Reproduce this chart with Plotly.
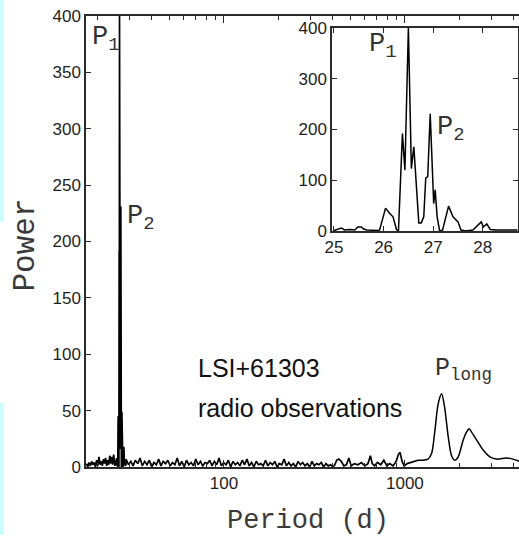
import math
import plotly.graph_objects as go

# Periodogram of LSI+61303 radio observations.
# Short-period noise, left of the orbital peak
short_period = [17.4, 17.7, 18.0, 18.3, 18.6, 18.9, 19.2, 19.5, 19.8, 20.1, 20.4, 20.7, 21.0,
                21.3, 21.6, 21.9, 22.2, 22.5, 22.8, 23.1, 23.4, 23.7, 24.0, 24.3, 24.6, 24.8]
short_power = [3, 0, 4, 1, 5, 2, 4, 0, 6, 1, 9, 2, 5, 1, 7, 3, 8, 1, 6, 2, 10, 3, 9, 2, 11, 4]

# Orbital peak region (also shown enlarged in the inset)
peak_period = [25.00, 25.08, 25.15, 25.21, 25.32, 25.42, 25.48, 25.55, 25.60, 25.66, 25.79, 25.89,
               25.92, 26.04, 26.12, 26.19, 26.26, 26.30, 26.38, 26.43, 26.50, 26.56, 26.61, 26.66,
               26.71, 26.76, 26.81, 26.85, 26.89, 26.94, 26.98, 27.01, 27.04, 27.08, 27.13, 27.19,
               27.31, 27.40, 27.50, 27.56, 27.66, 27.80, 27.97, 28.01, 28.08, 28.15, 28.27, 28.60,
               28.72]
peak_power = [1, 3, 6, 2, 3, 2, 8, 8, 4, 2, 1, 1,
              2, 45, 35, 28, 3, 0, 192, 120, 400, 123, 166, 87,
              16, 16, 28, 104, 107, 231, 140, 54, 81, 28, 0, 2,
              49, 28, 18, 2, 0, 2, 18, 8, 14, 3, 2, 1,
              2]

# Noise between the orbital peak and 400 d
mid_period = [28.8, 29.7, 30.6, 31.5, 32.4, 33.4, 34.4, 35.4, 36.5, 37.6,
              38.7, 39.9, 41.1, 42.3, 43.6, 44.9, 46.2, 47.6, 49.0, 50.5,
              52.0, 53.6, 55.2, 56.8, 58.5, 60.3, 62.1, 64.0, 65.9, 67.9,
              69.9, 72.0, 74.2, 76.4, 78.7, 81.1, 83.5, 86.0, 88.6, 91.3,
              94.0, 96.8, 99.7, 102.7, 105.8, 109.0, 112.2, 115.6, 119.1, 122.6,
              126.3, 130.1, 134.0, 138.0, 142.2, 146.4, 150.8, 155.4, 160.0, 164.8,
              169.8, 174.9, 180.1, 185.5, 191.1, 196.8, 202.7, 208.8, 215.1, 221.5,
              228.2, 235.0, 242.1, 249.3, 256.8, 264.5, 272.5, 280.6, 289.1, 297.7,
              306.7, 315.9, 325.3, 335.1, 345.2, 355.5, 366.2, 377.2, 388.5, 400.0]
mid_power = [7, 2, 5, 1, 6, 3, 8, 1, 5, 2,
             6, 0, 4, 2, 7, 1, 5, 3, 6, 1,
             4, 2, 8, 1, 5, 0, 6, 2, 4, 1,
             7, 2, 5, 1, 4, 3, 6, 1, 5, 2,
             8, 1, 4, 2, 6, 0, 5, 2, 4, 1,
             6, 2, 7, 1, 4, 0, 5, 2, 3, 1,
             6, 1, 4, 2, 5, 0, 3, 2, 7, 1,
             4, 1, 3, 0, 5, 2, 4, 1, 3, 0,
             5, 1, 3, 2, 4, 0, 3, 1, 2, 0]

# Sparse bumps from 400 d to the rise of the long period
tail_period = [410, 420, 432, 445, 460, 475, 490, 505, 525, 550, 575, 600, 625, 645, 660, 680,
               705, 735, 765, 795, 825, 860, 895, 920, 940, 965, 990, 1030, 1080, 1130, 1180]
tail_power = [2, 6, 7, 5, 1, 2, 8, 1, 3, 2, 4, 1, 3, 10, 3, 1,
              4, 2, 6, 1, 3, 1, 5, 11, 13, 5, 1, 3, 4, 5, 6]

# Smooth long-period part (P_long and its neighbour)
long_period = [1180, 1260, 1340, 1404, 1464, 1527, 1596, 1657, 1735, 1811, 1889, 1970,
               2100, 2191, 2265, 2336, 2489, 2708, 2950, 3213, 3646, 3950, 4300]
long_power = [6, 6, 7, 12, 32, 56, 65, 53, 27, 10, 6, 9,
              24, 31, 34, 31, 24, 15, 9, 7, 8, 7, 5]

main_ticks = [100, 1000]
main_minor = [20, 30, 40, 50, 60, 70, 80, 90, 200, 300, 400, 500, 600, 700, 800, 900,
              2000, 3000, 4000]

W, H = 519, 540
L, R, T, B = 86, 0, 16, 73
PW, PH = W - L - R, H - T - B


def px_x(x):
    return (x - L) / PW


def px_y(y):
    return (H - B - y) / PH


ink = "#2b2b2b"
sans = "Liberation Sans, Arial, sans-serif"
num_font = dict(family=sans, size=17, color="#1e1e1e")
mono = "Liberation Mono, Courier New, monospace"

main_x = short_period + peak_period + mid_period + tail_period
main_y = short_power + peak_power + mid_power + tail_power

fig = go.Figure()
fig.add_trace(go.Scatter(x=main_x, y=main_y, mode="lines",
                         line=dict(color="black", width=1.7), hoverinfo="skip"))
fig.add_trace(go.Scatter(x=long_period, y=long_power, mode="lines",
                         line=dict(color="black", width=1.5, shape="spline", smoothing=0.8),
                         hoverinfo="skip"))
fig.add_trace(go.Scatter(x=peak_period, y=peak_power, mode="lines", xaxis="x2", yaxis="y2",
                         line=dict(color="black", width=1.5), hoverinfo="skip"))

axis_common = dict(showgrid=False, zeroline=False, showline=True, linecolor=ink, linewidth=1.5,
                   ticks="inside", tickcolor=ink, tickwidth=1.2, tickfont=num_font)

fig.update_layout(
    width=W, height=H,
    margin=dict(l=L, r=R, t=T, b=B, pad=0),
    paper_bgcolor="white", plot_bgcolor="white",
    showlegend=False,
    xaxis=dict(axis_common, type="log",
               range=[math.log10(17.3), math.log10(4270)],
               tickmode="array", tickvals=main_ticks, ticktext=[str(v) for v in main_ticks],
               ticklen=7, mirror="allticks",
               minor=dict(tickmode="array", tickvals=main_minor, ticks="inside",
                          ticklen=4, tickcolor=ink, tickwidth=1, showgrid=False)),
    yaxis=dict(axis_common, range=[0, 400], dtick=50, tick0=0, ticklen=5, mirror=False),
    xaxis2=dict(axis_common, domain=[px_x(332), px_x(517.5)], anchor="y2",
                range=[24.96, 28.7], dtick=1, tick0=25, ticklen=5, mirror="allticks"),
    yaxis2=dict(axis_common, domain=[px_y(231), px_y(28)], anchor="x2",
                range=[0, 400], dtick=100, tick0=0, ticklen=5, mirror="allticks"),
)

# light cyan strips along the left edge of the page
for y0, y1 in [(0, 222), (403, 535)]:
    fig.add_shape(type="rect", xref="paper", yref="paper",
                  x0=px_x(0), x1=px_x(4), y0=px_y(y1), y1=px_y(y0),
                  line=dict(width=0), fillcolor="#ccffff", layer="below")

label_font = dict(family=mono, size=27, color="#333333")
notes = [
    dict(text="P<sub>1</sub>", xref="x", yref="y", x=1.262, y=380),
    dict(text="P<sub>2</sub>", xref="x", yref="y", x=1.453, y=221),
    dict(text="P<sub>long</sub>", xref="x", yref="y", x=3.1547, y=86.5, font=dict(family=mono, size=25, color="#333333")),
    dict(text="P<sub>1</sub>", xref="x2", yref="y2", x=25.66, y=364),
    dict(text="P<sub>2</sub>", xref="x2", yref="y2", x=27.03, y=201),
]
for n in notes:
    fig.add_annotation(showarrow=False, xanchor="left", yanchor="middle",
                       font=n.pop("font", label_font), **n)

text_font = dict(family=sans, size=25, color="#111111")
fig.add_annotation(text="LSI+61303", xref="paper", yref="paper", x=px_x(196), y=px_y(367.5),
                   xanchor="left", yanchor="middle", showarrow=False, font=text_font)
fig.add_annotation(text="radio observations", xref="paper", yref="paper", x=px_x(196), y=px_y(408),
                   xanchor="left", yanchor="middle", showarrow=False, font=text_font)

# axis titles
fig.add_annotation(text="Power", xref="paper", yref="paper", x=px_x(25), y=px_y(244.5),
                   textangle=-90, xanchor="center", yanchor="middle", showarrow=False,
                   font=dict(family=mono, size=31, color="#3a3a3a"))
fig.add_annotation(text="Period (d)", xref="paper", yref="paper", x=px_x(308), y=px_y(521),
                   xanchor="center", yanchor="middle", showarrow=False,
                   font=dict(family=mono, size=27, color="#3a3a3a"))

fig.write_html("out.html", config={"displayModeBar": False})
